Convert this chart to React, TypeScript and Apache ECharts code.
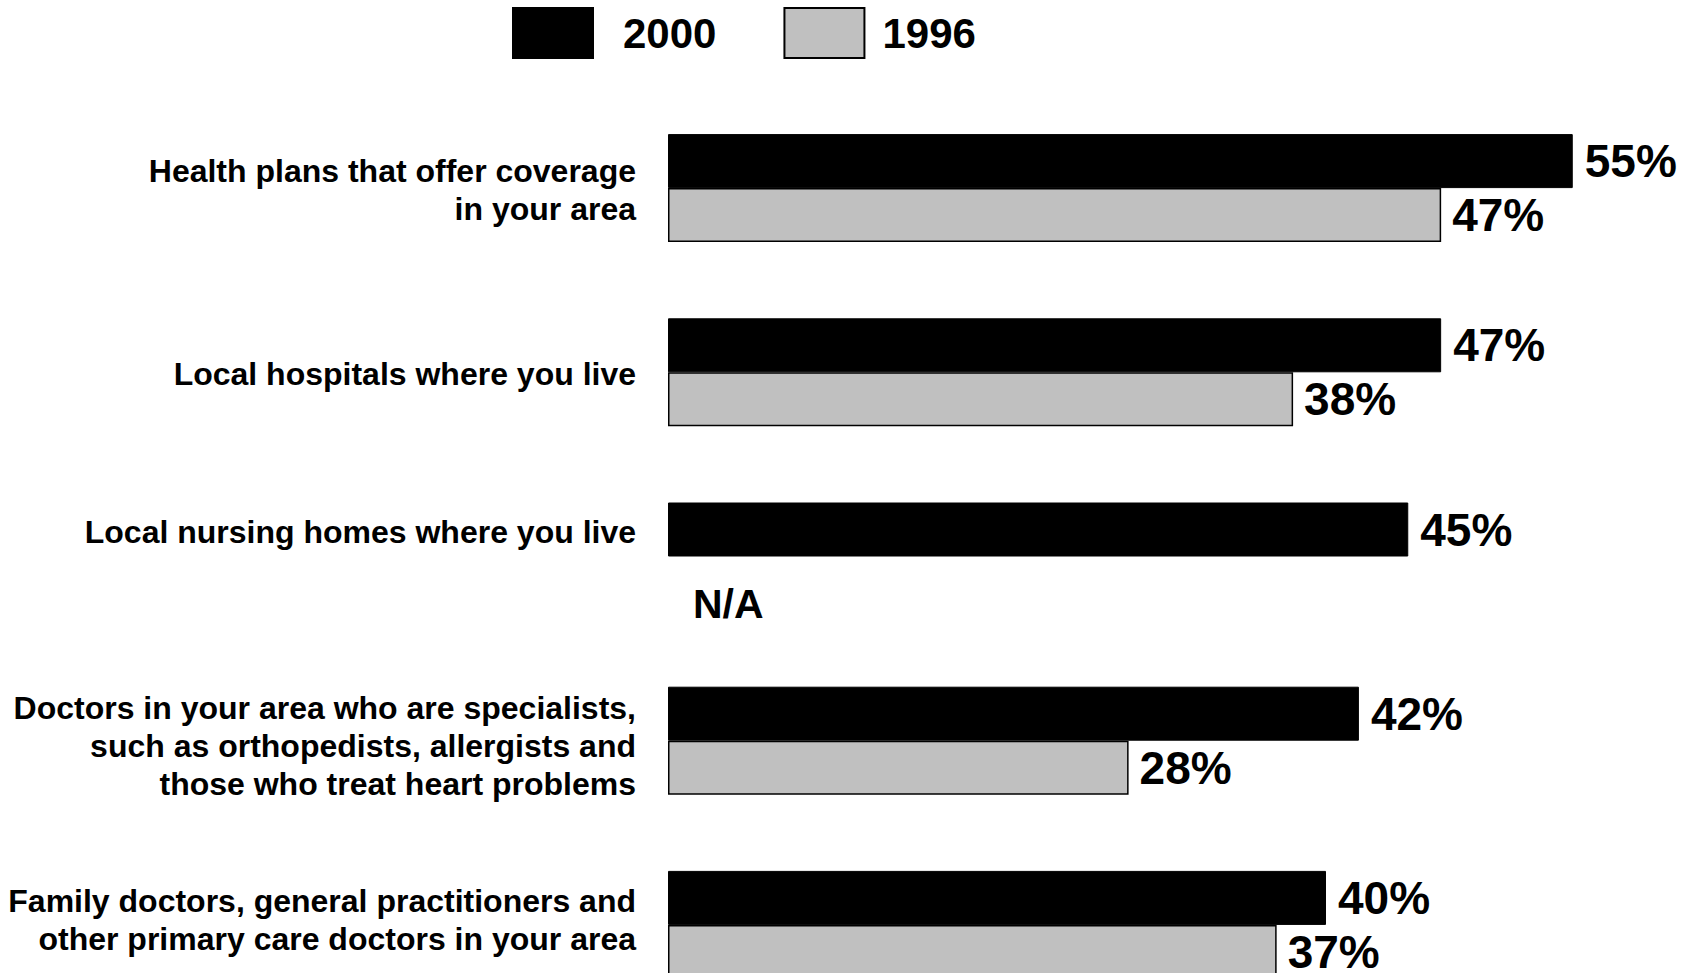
import React, { useEffect, useRef } from "react";
import * as echarts from "echarts";

const categories = [
  "Health plans that offer coverage\nin your area",
  "Local hospitals where you live",
  "Local nursing homes where you live",
  "Doctors in your area who are specialists,\nsuch as orthopedists, allergists and\nthose who treat heart problems",
  "Family doctors, general practitioners and\nother primary care doctors in your area",
];
const values2000 = [55, 47, 45, 42, 40];
const values1996: (number | null)[] = [47, 38, null, 28, 37];
const seriesNames = ["2000", "1996"];

// spacer line heights (px) above / below each category label, for vertical fine-tuning
const labelLead = [4, 4, 0, 11, 0];
const labelTrail = [0, 0, 49, 0, 10];

const FONT = "'Liberation Sans', Arial, sans-serif";

export default function App() {
  const ref = useRef<HTMLDivElement>(null);
  useEffect(() => {
    if (!ref.current) return;
    const chart = echarts.init(ref.current, null, { renderer: "svg" });
    const data1996 = values1996.map((v) =>
      v === null
        ? {
            value: 0,
            itemStyle: { color: "transparent", borderWidth: 0 },
            label: {
              show: true,
              formatter: "N/A",
              fontSize: 41,
              distance: 25,
              offset: [0, 20],
            },
          }
        : v
    );
    const rich: Record<string, any> = {};
    labelLead.forEach((h, i) => {
      if (h > 0) rich["l" + i] = { lineHeight: h, fontSize: 2 };
    });
    labelTrail.forEach((h, i) => {
      if (h > 0) rich["t" + i] = { lineHeight: h, fontSize: 2 };
    });
    chart.setOption({
      animation: false,
      backgroundColor: "#fff",
      legend: {
        left: 512,
        top: 7,
        padding: 0,
        icon: "rect",
        itemWidth: 80,
        itemHeight: 50,
        itemGap: 67,
        data: [
          { name: seriesNames[0], textStyle: { padding: [0, 0, 0, 25] } },
          { name: seriesNames[1], textStyle: { padding: [0, 0, 0, 13] } },
        ],
        textStyle: {
          fontFamily: FONT,
          fontWeight: "bold",
          fontSize: 42,
          color: "#000",
        },
      },
      grid: {
        left: 668,
        top: 96,
        width: 987,
        height: 921,
        outerBoundsMode: "none",
        containLabel: false,
      },
      xAxis: {
        type: "value",
        min: 0,
        max: 60,
        show: false,
        splitLine: { show: false },
      },
      yAxis: {
        type: "category",
        inverse: true,
        data: categories,
        axisLine: { show: false },
        axisTick: { show: false },
        axisLabel: {
          margin: 32,
          align: "right",
          fontFamily: FONT,
          fontWeight: "bold",
          fontSize: 32,
          lineHeight: 38,
          color: "#000",
          rich,
          formatter: (value: string, index: number) => {
            const lead = labelLead[index] > 0 ? `{l${index}| }\n` : "";
            const trail = labelTrail[index] > 0 ? `\n{t${index}| }` : "";
            return lead + value + trail;
          },
        },
      },
      series: [
        {
          name: seriesNames[0],
          type: "bar",
          data: values2000,
          barWidth: 54,
          barGap: "0%",
          itemStyle: { color: "#000", borderColor: "#000", borderWidth: 1 },
          label: {
            show: true,
            position: "right",
            distance: 12,
            formatter: "{c}%",
            fontFamily: FONT,
            fontWeight: "bold",
            fontSize: 46,
            color: "#000",
          },
        },
        {
          name: seriesNames[1],
          type: "bar",
          data: data1996,
          barWidth: 54,
          barGap: "0%",
          itemStyle: { color: "#C0C0C0", borderColor: "#000", borderWidth: 1.5 },
          label: {
            show: true,
            position: "right",
            distance: 11,
            formatter: "{c}%",
            fontFamily: FONT,
            fontWeight: "bold",
            fontSize: 46,
            color: "#000",
          },
        },
      ],
    });
    return () => chart.dispose();
  }, []);
  return (
    <div
      ref={ref}
      style={{ position: "fixed", left: 0, top: 0, width: "1694px", height: "973px" }}
    />
  );
}
